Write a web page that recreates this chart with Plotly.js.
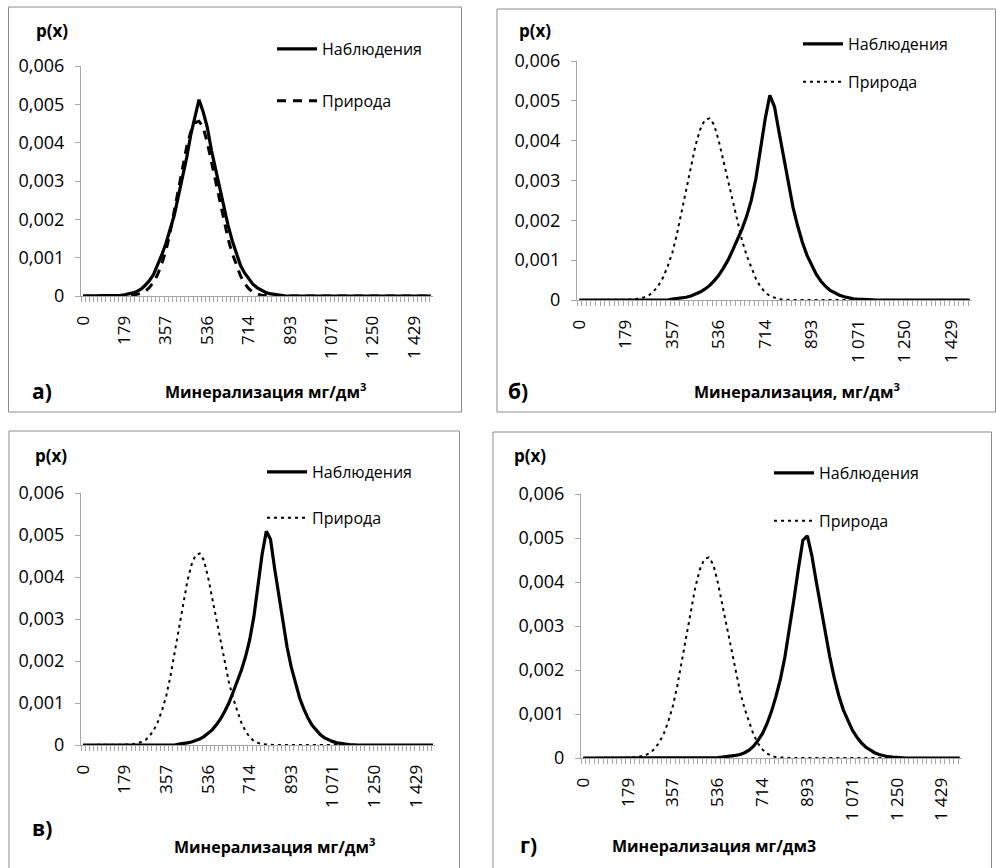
<!DOCTYPE html>
<html>
<head>
<meta charset="utf-8">
<script src="https://cdn.plot.ly/plotly-3.0.1.min.js"></script>
<style>
  html, body { margin: 0; padding: 0; background: #ffffff; }
  #chart { width: 996px; height: 868px; }
</style>
</head>
<body>
<div id="chart"></div>
<script>
// Categories (mineralisation, mg/dm3) – 85 equally spaced classes
const categories = [
  0, 17.9, 35.7, 53.6, 71.4, 89.3, 107.1, 125, 142.9, 160.7,
  178.6, 196.4, 214.3, 232.1, 250, 267.9, 285.7, 303.6, 321.4, 339.3,
  357.1, 375, 392.9, 410.7, 428.6, 446.4, 464.3, 482.1, 500, 517.9,
  535.7, 553.6, 571.4, 589.3, 607.1, 625, 642.9, 660.7, 678.6, 696.4,
  714.3, 732.1, 750, 767.9, 785.7, 803.6, 821.4, 839.3, 857.1, 875,
  892.9, 910.7, 928.6, 946.4, 964.3, 982.1, 1000, 1017.9, 1035.7, 1053.6,
  1071.4, 1089.3, 1107.1, 1125, 1142.9, 1160.7, 1178.6, 1196.4, 1214.3, 1232.1,
  1250, 1267.9, 1285.7, 1303.6, 1321.4, 1339.3, 1357.1, 1375, 1392.9, 1410.7,
  1428.6, 1446.4, 1464.3, 1482.1, 1500
];

// X tick labels (every 10th class)
const xTickValues = [0, 178.6, 357.1, 535.7, 714.3, 892.9, 1071.4, 1250, 1428.6];
const xTickLabels = ['0', '179', '357', '536', '714', '893', '1 071', '1 250', '1 429'];

// Y tick labels
const yTickValues = [0, 0.001, 0.002, 0.003, 0.004, 0.005, 0.006];
const yTickLabels = ['0', '0,001', '0,002', '0,003', '0,004', '0,005', '0,006'];

// "Природа" (natural background) – same curve in all four panels
const nature = [
  0, 0, 0, 0, 0, 0, 0, 0, 0, 0,
  0, 0.00001, 0.00002, 0.00004, 0.00007, 0.00012, 0.00022, 0.00036, 0.00056, 0.00084,
  0.00118, 0.00165, 0.0022, 0.0028, 0.00336, 0.00388, 0.00428, 0.00452, 0.00456, 0.0044,
  0.0040, 0.0035, 0.00298, 0.00245, 0.00195, 0.0015, 0.00112, 0.0008, 0.00053, 0.00033,
  0.00019, 0.0001, 0.00005, 0.00002, 0.00001, 0, 0, 0, 0, 0,
  0, 0, 0, 0, 0, 0, 0, 0, 0, 0,
  0, 0, 0, 0, 0, 0, 0, 0, 0, 0,
  0, 0, 0, 0, 0, 0, 0, 0, 0, 0,
  0, 0, 0, 0, 0
];

// "Наблюдения" – panel а)
const obsA = [
  0, 0, 0, 0, 0, 0, 0, 0, 0.00001, 0.00002,
  0.00003, 0.00005, 0.00008, 0.00012, 0.00018, 0.00028, 0.0004, 0.00056, 0.0008, 0.00107,
  0.00137, 0.00172, 0.0021, 0.0026, 0.0031, 0.0036, 0.0042, 0.0047, 0.00512, 0.0048,
  0.0044, 0.0038, 0.0033, 0.0028, 0.0023, 0.00185, 0.00145, 0.00109, 0.0008, 0.0006,
  0.00044, 0.00031, 0.00022, 0.00015, 0.0001, 0.00006, 0.00004, 0.00002, 0.00001, 0,
  0, 0, 0, 0, 0, 0, 0, 0, 0, 0,
  0, 0, 0, 0, 0, 0, 0, 0, 0, 0,
  0, 0, 0, 0, 0, 0, 0, 0, 0, 0,
  0, 0, 0, 0, 0
];

// "Наблюдения" – panel б)
const obsB = [
  0, 0, 0, 0, 0, 0, 0, 0, 0, 0,
  0, 0, 0, 0, 0, 0, 0, 0, 0, 0,
  0.00002, 0.00003, 0.00005, 0.00007, 0.0001, 0.00014, 0.0002, 0.00027, 0.00036, 0.00048,
  0.00062, 0.0008, 0.001, 0.00125, 0.0015, 0.00178, 0.0021, 0.0025, 0.00305, 0.0038,
  0.00455, 0.00514, 0.00485, 0.0042, 0.00355, 0.0029, 0.00232, 0.00185, 0.00145, 0.00112,
  0.00086, 0.00064, 0.00047, 0.00034, 0.00024, 0.00017, 0.00012, 0.00008, 0.00005, 0.00003,
  0.00002, 0.00001, 0, 0, 0, 0, 0, 0, 0, 0,
  0, 0, 0, 0, 0, 0, 0, 0, 0, 0,
  0, 0, 0, 0, 0
];

// "Наблюдения" – panel в)
const obsV = [
  0, 0, 0, 0, 0, 0, 0, 0, 0, 0,
  0, 0, 0, 0, 0, 0, 0, 0, 0, 0,
  0, 0, 0, 0.00002, 0.00003, 0.00005, 0.00007, 0.0001, 0.00014, 0.0002,
  0.00027, 0.00036, 0.00048, 0.00062, 0.0008, 0.001, 0.00125, 0.0015, 0.00178, 0.0021,
  0.0025, 0.00305, 0.0038, 0.00455, 0.00509, 0.0049, 0.0042, 0.00355, 0.0029, 0.00232,
  0.00185, 0.00145, 0.00112, 0.00086, 0.00064, 0.00047, 0.00034, 0.00024, 0.00017, 0.00012,
  0.00008, 0.00005, 0.00003, 0.00002, 0.00001, 0, 0, 0, 0, 0,
  0, 0, 0, 0, 0, 0, 0, 0, 0, 0,
  0, 0, 0, 0, 0
];

// "Наблюдения" – panel г)
const obsG = [
  0, 0, 0, 0, 0, 0, 0, 0, 0, 0,
  0, 0, 0, 0, 0, 0, 0, 0, 0, 0,
  0, 0, 0, 0, 0, 0, 0, 0, 0, 0,
  0.00001, 0.00002, 0.00003, 0.00005, 0.00006, 0.00008, 0.00012, 0.00018, 0.00027, 0.0004,
  0.00056, 0.00078, 0.00106, 0.0014, 0.0018, 0.0023, 0.0029, 0.0036, 0.0043, 0.00495,
  0.00505, 0.0046, 0.004, 0.0034, 0.0028, 0.0023, 0.00182, 0.00142, 0.0011, 0.00085,
  0.00064, 0.00048, 0.00035, 0.00025, 0.00018, 0.00012, 0.00008, 0.00005, 0.00003, 0.00002,
  0.00001, 0, 0, 0, 0, 0, 0, 0, 0, 0,
  0, 0, 0, 0, 0
];

const obsName = 'Наблюдения';
const natName = 'Природа';
const panelLetters = ['а)', 'б)', 'в)', 'г)'];
const xTitles = ['Минерализация мг/дм<sup>3</sup>', 'Минерализация, мг/дм<sup>3</sup>',
                 'Минерализация мг/дм<sup>3</sup>', 'Минерализация мг/дм3'];

// ---------- layout helpers ----------
const W = 996, H = 868;
const fx = v => v / W;
const fy = v => 1 - v / H;
const FONT = 'Open Sans, Noto Sans, DejaVu Sans, sans-serif';
const GRAY = '#a6a6a6';
const half = (categories[1] - categories[0]) / 2;

// panel geometry in pixels: plot area, frame, legend and text positions
const panels = [
  {plot: [81, 433, 66, 296], frame: [8.5, 7, 461.5, 412], leg: [272, 32], gap: 28,
   px: [52, 31], letter: [42, 391], title: [265, 391], dash: '9px,7px', nw: 3},
  {plot: [577, 972, 61, 300], frame: [497, 9, 995.5, 412], leg: [798, 27], gap: 14,
   px: [535, 31], letter: [518, 391], title: [797, 391], dash: '3px,4px', nw: 2},
  {plot: [81, 435, 493, 745], frame: [9, 431, 459.5, 880], leg: [262, 455], gap: 22,
   px: [51, 455], letter: [42, 828], title: [274, 846], dash: '3px,4px', nw: 2},
  {plot: [581, 962, 494, 758], frame: [493, 432, 991.5, 880], leg: [769, 456], gap: 24,
   px: [530, 456], letter: [528, 845], title: [714, 846], dash: '3px,4px', nw: 2}
];
const obsSeries = [obsA, obsB, obsV, obsG];

const data = [];
const layout = {
  width: W, height: H,
  margin: {l: 0, r: 0, t: 0, b: 0},
  paper_bgcolor: '#ffffff', plot_bgcolor: 'rgba(0,0,0,0)',
  font: {family: FONT, size: 16, color: '#000'},
  separators: ', ',
  shapes: [], annotations: []
};

function ann(text, xy, size) {
  return {text: text, xref: 'paper', yref: 'paper', x: fx(xy[0]), y: fy(xy[1]),
          xanchor: 'center', yanchor: 'middle', showarrow: false,
          font: {family: FONT, size: size, color: '#000'}};
}

panels.forEach((p, i) => {
  const n = i === 0 ? '' : String(i + 1);
  const legName = 'legend' + n;
  data.push({
    x: categories, y: obsSeries[i], type: 'scatter', mode: 'lines',
    name: obsName, xaxis: 'x' + n, yaxis: 'y' + n,
    line: {color: '#000', width: 3.2, shape: 'linear'},
    legend: legName, legendgroup: 'o' + i, hoverinfo: 'skip'
  });
  data.push({
    x: categories, y: nature, type: 'scatter', mode: 'lines',
    name: natName, xaxis: 'x' + n, yaxis: 'y' + n,
    line: {color: '#000', width: p.nw, dash: p.dash, shape: 'linear'},
    legend: legName, legendgroup: 'n' + i, hoverinfo: 'skip'
  });

  layout['xaxis' + n] = {
    domain: [fx(p.plot[0]), fx(p.plot[1])],
    anchor: 'y' + n,
    range: [categories[0] - half, categories[categories.length - 1] + half],
    tickmode: 'array', tickvals: xTickValues, ticktext: xTickLabels,
    ticks: '', tickangle: -90, ticklabelstandoff: 12,
    tickfont: {family: FONT, size: 17, color: '#000'},
    minor: {tick0: categories[0] - half, dtick: 2 * half, ticks: 'outside',
            ticklen: 5, tickcolor: GRAY, tickwidth: 1, showgrid: false},
    showline: true, linecolor: GRAY, linewidth: 1,
    showgrid: false, zeroline: false, layer: 'below traces', fixedrange: true
  };
  layout['yaxis' + n] = {
    domain: [fy(p.plot[3]), fy(p.plot[2])],
    anchor: 'x' + n,
    range: [0, 0.006],
    tickmode: 'array', tickvals: yTickValues, ticktext: yTickLabels,
    ticks: 'outside', ticklen: 5, tickcolor: GRAY, ticklabelstandoff: 7,
    tickfont: {family: FONT, size: 18, color: '#000'},
    showline: true, linecolor: GRAY, linewidth: 1,
    showgrid: false, zeroline: false, layer: 'below traces', fixedrange: true
  };
  layout[legName] = {
    x: fx(p.leg[0]), y: fy(p.leg[1]), xanchor: 'left', yanchor: 'top',
    bgcolor: 'rgba(0,0,0,0)', borderwidth: 0,
    font: {family: FONT, size: 16, color: '#000'},
    tracegroupgap: p.gap, traceorder: 'grouped', itemwidth: 40
  };
  layout.shapes.push({
    type: 'rect', xref: 'paper', yref: 'paper',
    x0: fx(p.frame[0]), x1: fx(p.frame[2]), y0: fy(p.frame[3]), y1: fy(p.frame[1]),
    line: {color: '#8c8c8c', width: 1}, fillcolor: 'rgba(0,0,0,0)', layer: 'below'
  });
  layout.annotations.push(
    ann('<b>p(x)</b>', p.px, 17),
    ann('<b>' + panelLetters[i] + '</b>', p.letter, 21),
    ann('<b>' + xTitles[i] + '</b>', p.title, 16)
  );
});

Plotly.newPlot('chart', data, layout, {displayModeBar: false, staticPlot: true});
</script>
</body>
</html>
